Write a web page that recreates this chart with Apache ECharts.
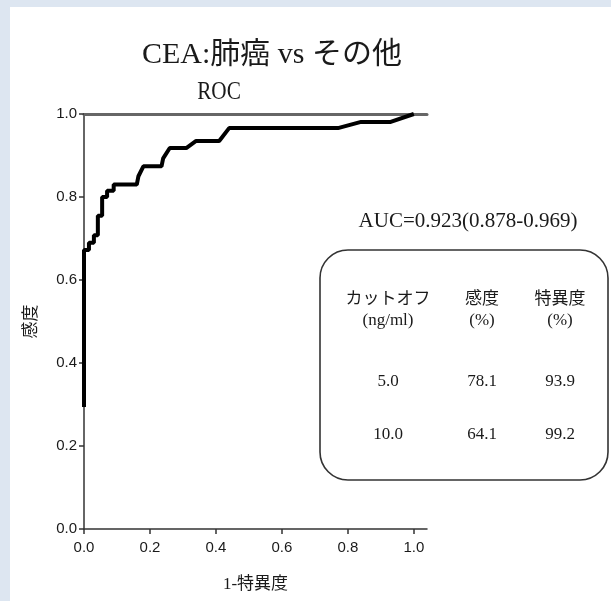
<!DOCTYPE html>
<html>
<head>
<meta charset="utf-8">
<script src="https://cdn.jsdelivr.net/npm/echarts@6/dist/echarts.min.js"></script>
<style>
  html, body { margin: 0; padding: 0; background: #dde6f1; }
  #frame { position: absolute; left: 10px; top: 7px; width: 601px; height: 594px; background: #ffffff; }
  #chart { position: absolute; left: 0; top: 0; width: 611px; height: 601px; }
</style>
</head>
<body>
<div id="frame"></div>
<div id="chart"></div>
<script>
// ROC curve of CEA: lung cancer vs others (1 - specificity, sensitivity)
const fpr = [0, 0, 0.015, 0.015, 0.03, 0.03, 0.042, 0.042, 0.055, 0.055, 0.07, 0.07, 0.09, 0.09,
             0.16, 0.165, 0.18, 0.235, 0.24, 0.26, 0.31, 0.34, 0.41, 0.44, 0.77, 0.84, 0.93, 1.0];
const tpr = [0.294, 0.672, 0.672, 0.69, 0.69, 0.708, 0.708, 0.755, 0.755, 0.80, 0.80, 0.815, 0.815, 0.83,
             0.83, 0.85, 0.874, 0.874, 0.893, 0.918, 0.918, 0.935, 0.935, 0.966, 0.966, 0.981, 0.981, 1.0];

const xTicks = [0, 0.2, 0.4, 0.6, 0.8, 1.0];
const yTicks = [0, 0.2, 0.4, 0.6, 0.8, 1.0];

const titleText = 'CEA:肺癌 vs その他';
const subTitle = 'ROC';
const aucText = 'AUC=0.923(0.878-0.969)';

// cutoff table
const tableHeader1 = ['カットオフ', '感度', '特異度'];
const tableHeader2 = ['(ng/ml)', '(%)', '(%)'];
const cutoffs = ['5.0', '10.0'];
const sensitivity = ['78.1', '64.1'];
const specificity = ['93.9', '99.2'];

const SERIF = '"Liberation Serif", "Noto Sans CJK JP", serif';
const SANS = '"Liberation Sans", Arial, sans-serif';
const INK = '#1a1a1a';

const chart = echarts.init(document.getElementById('chart'), null, { renderer: 'canvas' });

const colX = [388, 482, 560];
const rowY = [300, 321, 382, 435];

const graphics = [
  { type: 'text', x: 272, y: 55, style: { text: titleText, font: '30px ' + SERIF, fill: INK, textAlign: 'center', textVerticalAlign: 'middle' } },
  { type: 'text', x: 219, y: 92, scaleX: 0.85, style: { text: subTitle, font: '25px ' + SERIF, fill: INK, textAlign: 'center', textVerticalAlign: 'middle' } },
  { type: 'text', x: 468, y: 221, style: { text: aucText, font: '21px ' + SERIF, fill: INK, textAlign: 'center', textVerticalAlign: 'middle' } },
  { type: 'rect', shape: { x: 320, y: 250, width: 288, height: 230, r: 28 }, style: { fill: 'none', stroke: '#333', lineWidth: 1.6 } }
];

const addCell = (txt, x, y) => graphics.push({
  type: 'text', x: x, y: y,
  style: { text: txt, font: '17px ' + SERIF, fill: INK, textAlign: 'center', textVerticalAlign: 'middle' }
});
tableHeader1.forEach((t, i) => addCell(t, colX[i], rowY[0]));
tableHeader2.forEach((t, i) => addCell(t, colX[i], rowY[1]));
cutoffs.forEach((c, r) => {
  addCell(c, colX[0], rowY[2 + r]);
  addCell(sensitivity[r], colX[1], rowY[2 + r]);
  addCell(specificity[r], colX[2], rowY[2 + r]);
});

chart.setOption({
  animation: false,
  backgroundColor: 'transparent',
  grid: { left: 84, top: 114, width: 343, height: 415, containLabel: false },
  xAxis: [
    {
      type: 'value', min: 0, max: 1.04,
      name: '1-特異度', nameLocation: 'middle', nameGap: 47,
      nameTextStyle: { fontFamily: SERIF, fontSize: 17, color: INK },
      axisLine: { show: true, lineStyle: { color: '#333', width: 1.5 } },
      axisTick: { show: true, customValues: xTicks, length: 5, lineStyle: { color: '#333', width: 1.5 } },
      axisLabel: { customValues: xTicks, formatter: v => v.toFixed(1), fontFamily: SANS, fontSize: 15, color: INK, margin: 11 },
      splitLine: { show: false }
    },
    {
      type: 'value', min: 0, max: 1.04, position: 'top',
      axisLine: { show: true, lineStyle: { color: '#666', width: 3 } },
      axisTick: { show: false }, axisLabel: { show: false }, splitLine: { show: false }
    }
  ],
  yAxis: {
    type: 'value', min: yTicks[0], max: yTicks[yTicks.length - 1], interval: 0.2,
    name: '感度', nameLocation: 'middle', nameGap: 44, nameRotate: 90,
    nameTextStyle: { fontFamily: SERIF, fontSize: 17, color: INK },
    axisLine: { show: true, lineStyle: { color: '#333', width: 1.5 } },
    axisTick: { show: true, length: 5, lineStyle: { color: '#333', width: 1.5 } },
    axisLabel: { formatter: v => v.toFixed(1), fontFamily: SANS, fontSize: 15, color: INK, margin: 7 },
    splitLine: { show: false }
  },
  series: [{
    type: 'line',
    xAxisIndex: 0,
    data: fpr.map((x, i) => [x, tpr[i]]),
    symbol: 'none',
    clip: false,
    lineStyle: { color: '#000', width: 4 }
  }],
  graphic: graphics
});
</script>
</body>
</html>
